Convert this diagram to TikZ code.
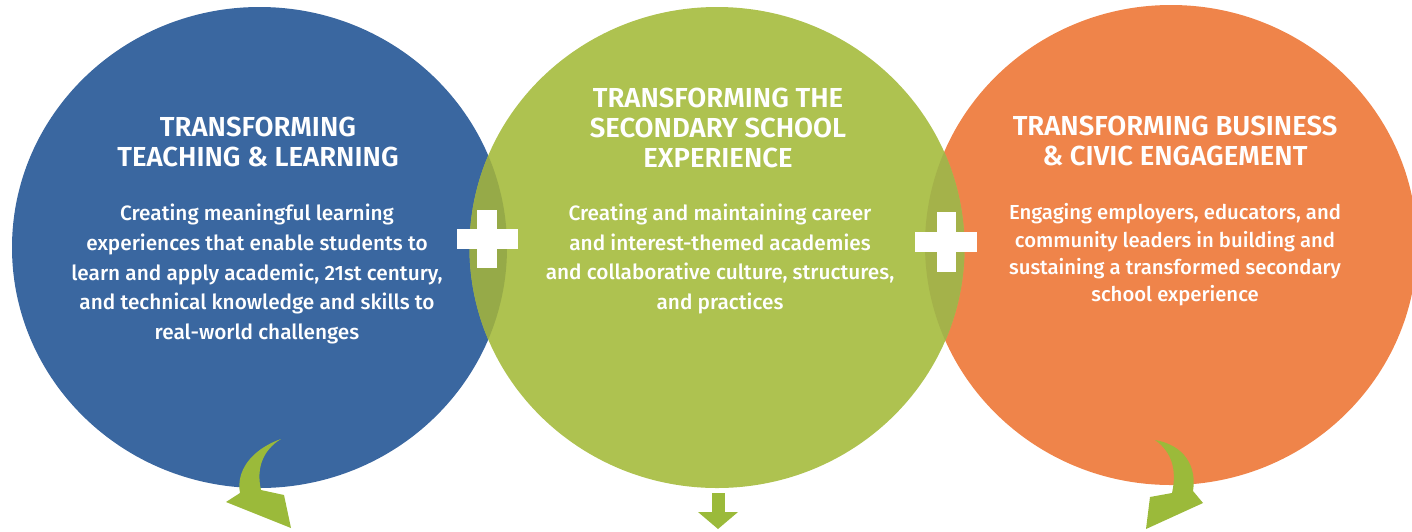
\documentclass[tikz,border=0pt]{standalone}
\usepackage{fontspec}
\setmainfont{Fira Sans}[UprightFont=* Medium, BoldFont=* SemiBold]
\definecolor{cblue}{RGB}{58,103,160}
\definecolor{cgreen}{RGB}{174,194,80}
\definecolor{corange}{RGB}{239,132,74}
\definecolor{cbg}{RGB}{150,170,72}
\definecolor{cgo}{RGB}{164,178,74}
\definecolor{carrow}{RGB}{155,186,58}
\tikzset{
  ttl/.style={text=white, align=center, inner sep=0pt, font=\bfseries\fontsize{27.5}{30}\selectfont},
  body/.style={text=white, align=center, inner sep=0pt, font=\fontsize{20.8}{29.8}\selectfont},
  bodyb/.style={text=white, align=center, inner sep=0pt, font=\fontsize{20.3}{27.4}\selectfont},
  arrowshape/.style={fill=carrow, draw=none},
  plusbar/.style={fill=white, draw=none}
}
\begin{document}
\begin{tikzpicture}[x=1pt,y=-1pt]
\useasboundingbox (0,0) rectangle (1412,531);
\clip (0,0) rectangle (1412,531);
% circles
\fill[cblue] (259.5,247.5) ellipse [x radius=247.5, y radius=240.5];
\fill[corange] (1171,245) ellipse [x radius=246, y radius=240];
\fill[cgreen] (717,247.5) ellipse [x radius=247.5, y radius=240.5];
\begin{scope}
  \clip (259.5,247.5) ellipse [x radius=247.5, y radius=240.5];
  \fill[cbg] (717,247.5) ellipse [x radius=247.5, y radius=240.5];
\end{scope}
\begin{scope}
  \clip (1171,245) ellipse [x radius=246, y radius=240];
  \fill[cgo] (717,247.5) ellipse [x radius=247.5, y radius=240.5];
\end{scope}
% plus signs
\fill[plusbar] (457,229) rectangle (518,249);
\fill[plusbar] (477,210) rectangle (497,268);
\fill[plusbar] (915,232) rectangle (977,252);
\fill[plusbar] (937,212) rectangle (956,272);
% texts
\node[ttl] (t1) at (258,142) {TRANSFORMING\\TEACHING \& LEARNING};
\node[body] (b1) at (257,274) {Creating meaningful learning\\experiences that enable students to\\learn and apply academic, 21st century,\\and technical knowledge and skills to\\real-world challenges};
\node[ttl] (t2) at (718,128) {TRANSFORMING THE\\SECONDARY SCHOOL\\EXPERIENCE};
\node[body] (b2) at (720,259) {Creating and maintaining career\\and interest-themed academies\\and collaborative culture, structures,\\and practices};
\node[ttl] (t3) at (1175,141) {TRANSFORMING BUSINESS\\\& CIVIC ENGAGEMENT};
\node[bodyb] (b3) at (1175,255) {Engaging employers, educators, and\\community leaders in building and\\sustaining a transformed secondary\\school experience};
% arrows
\fill[arrowshape] (281,439) .. controls (250,450) and (236,472) .. (240,493)
  -- (226,502) -- (291,528) -- (284,495) -- (261,490)
  .. controls (256,468) and (263,450) .. (281,439) -- cycle;
\fill[arrowshape] (712,493) rectangle (725,513);
\fill[arrowshape] (698,512) -- (738,512) -- (718,529) -- cycle;
\fill[arrowshape] (1155,440) .. controls (1184,445) and (1197,466) .. (1193,491)
  -- (1203,503) -- (1146,529) -- (1150,497) -- (1172,493)
  .. controls (1177,470) and (1172,452) .. (1155,440) -- cycle;
\end{tikzpicture}
\end{document}
